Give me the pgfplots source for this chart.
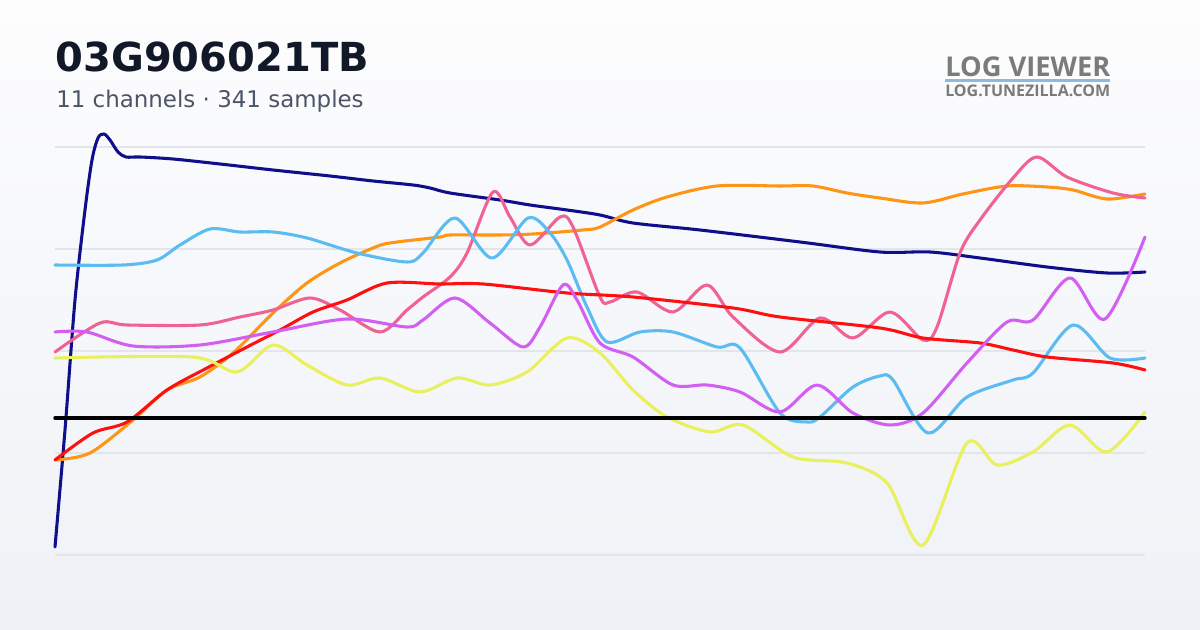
\documentclass[border=0pt]{standalone}
\usepackage{pgfplots}
\pgfplotsset{compat=1.18}
\usepackage{fontspec}
\setmainfont{DejaVu Sans}
\newfontfamily\logofont{Open Sans}
\definecolor{cNavy}{HTML}{0F0F8C}
\definecolor{cOrange}{HTML}{FF9514}
\definecolor{cPink}{HTML}{F06292}
\definecolor{cBlue}{HTML}{5BBCF2}
\definecolor{cRed}{HTML}{FF1010}
\definecolor{cPurple}{HTML}{D35EF2}
\definecolor{cYellow}{HTML}{E8F05C}
\definecolor{cGrid}{HTML}{E2E5EA}
\definecolor{cTitle}{HTML}{111827}
\definecolor{cSub}{HTML}{4A5568}
\definecolor{cLogo}{HTML}{7B7B7B}
\definecolor{cLogoLine}{HTML}{8FB8DE}
\definecolor{cBgTop}{HTML}{FDFDFE}
\definecolor{cBgBot}{HTML}{EEF1F6}
\begin{document}
\begin{tikzpicture}
\shade[top color=cBgTop, bottom color=cBgBot] (0,0) rectangle (900pt,472.5pt);
\node[anchor=base west, inner sep=0pt, text=cTitle, font=\fontsize{30}{36}\selectfont\bfseries] at (41.5pt,418.5pt) {03G906021TB};
\node[anchor=base west, inner sep=0pt, text=cSub, font=\fontsize{17.2}{20}\selectfont] at (42pt,391.5pt) {11 channels · 341 samples};
\node[anchor=base west, inner sep=0pt, text=cLogo] at (708.75pt,414.75pt) {\resizebox{123.75pt}{!}{\logofont\bfseries LOG VIEWER}};
\draw[cLogoLine, line width=1.9pt] (708.75pt,412pt) -- (832.5pt,412pt);
\node[anchor=base west, inner sep=0pt, text=cLogo] at (708.75pt,399.75pt) {\resizebox{123.75pt}{!}{\logofont\bfseries LOG.TUNEZILLA.COM}};
\begin{axis}[
  at={(41.25pt,52.5pt)}, anchor=south west,
  scale only axis, width=817.5pt, height=326.25pt,
  xmin=55, xmax=1145, ymin=125, ymax=560, y dir=reverse,
  axis line style={draw=none}, tick style={draw=none},
  xtick=\empty, ytick={147,249,351,453,555},
  yticklabels={\empty,\empty,\empty,\empty,\empty},
  ymajorgrids, grid style={cGrid, line width=1.1pt},
  clip=false,
  every axis plot/.append style={line width=2.3pt, line join=round, line cap=round, smooth, mark=none},
]
\addplot[cNavy] coordinates {(55,547)(65,430)(75,300)(85,210)(92,160)(98,138)(104,134)(110,140)(118,152)(126,157)(140,157)(173,159)(220,164)(273,170)(330,176)(373,181)(413,185)(430,188)(450,193)(500,200)(530,205)(567,210)(600,215)(633,223)(700,230)(800,242)(880,252)(930,252)(980,258)(1047,267)(1107,273)(1145,272)};
\addplot[cOrange] coordinates {(55,460)(90,453)(133,420)(167,390)(200,377)(233,353)(273,313)(307,283)(340,263)(373,248)(390,243)(440,237)(450,235)(500,235)(533,234)(583,230)(600,227)(633,210)(667,197)(717,186)(780,186)(813,186)(847,193)(880,198)(923,203)(963,194)(1007,186)(1047,187)(1073,190)(1107,199)(1145,194)};
\addplot[cPink] coordinates {(55,352)(100,323)(127,325)(200,325)(240,317)(273,310)(310,298)(340,310)(380,332)(407,310)(423,297)(450,277)(467,253)(493,192)(510,217)(530,245)(560,217)(573,227)(600,297)(610,302)(637,292)(673,312)(707,285)(733,317)(780,352)(820,318)(853,338)(890,312)(923,340)(937,327)(960,253)(980,220)(1013,178)(1037,157)(1067,177)(1113,193)(1145,198)};
\addplot[cBlue] coordinates {(55,265)(123,265)(157,260)(180,245)(210,229)(240,232)(273,232)(307,238)(357,253)(407,262)(423,253)(455,218)(492,258)(528,218)(550,233)(567,260)(587,307)(607,342)(640,332)(673,332)(717,347)(740,348)(780,413)(807,422)(820,417)(853,387)(880,376)(893,380)(928,433)(967,397)(1013,380)(1033,373)(1073,325)(1110,358)(1145,358)};
\addplot[cRed] coordinates {(55,460)(93,433)(127,422)(167,390)(207,368)(247,347)(280,330)(313,312)(347,300)(387,283)(440,284)(483,284)(567,293)(633,297)(733,308)(780,317)(880,328)(923,338)(980,343)(1013,350)(1047,357)(1113,363)(1145,370)};
\addplot[cPurple] coordinates {(55,332)(87,332)(133,346)(200,345)(273,332)(347,319)(407,327)(423,320)(455,298)(490,323)(523,347)(540,327)(563,285)(577,300)(600,343)(633,357)(673,385)(707,385)(740,392)(780,412)(817,385)(853,413)(890,425)(923,413)(967,363)(1007,322)(1033,320)(1070,278)(1105,319)(1145,237)};
\addplot[cYellow] coordinates {(55,358)(193,357)(237,372)(273,345)(307,365)(347,385)(380,378)(420,392)(457,378)(490,385)(527,372)(567,338)(600,353)(633,390)(667,417)(710,432)(743,425)(793,457)(847,463)(887,483)(923,545)(967,443)(997,465)(1033,452)(1070,425)(1107,452)(1145,412)};
\addplot[black, line width=2.6pt, sharp plot] coordinates {(55,418)(1145,418)};
\end{axis}
\end{tikzpicture}
\end{document}
